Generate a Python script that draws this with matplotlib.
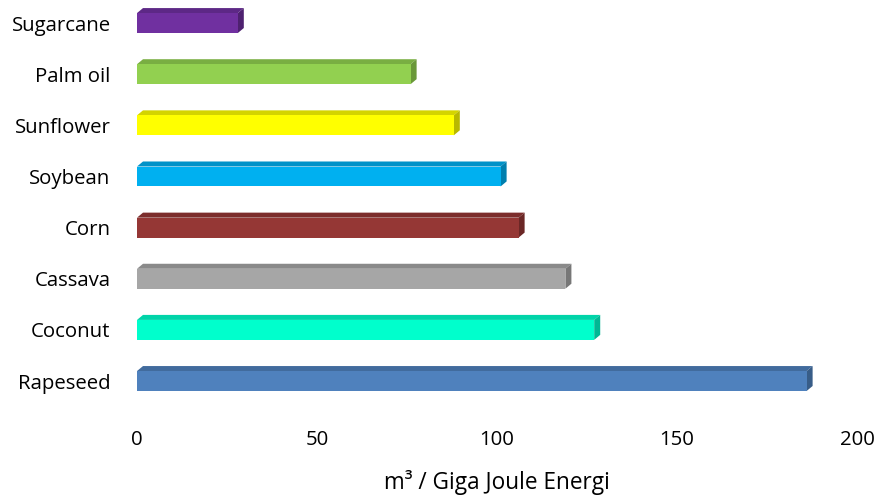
import matplotlib
matplotlib.use("Agg")
import matplotlib.pyplot as plt
from matplotlib.patches import Polygon

# water footprint per crop, bottom to top
crops = ["Rapeseed", "Coconut", "Cassava", "Corn", "Soybean", "Sunflower", "Palm oil", "Sugarcane"]
values = [186, 127, 119, 106, 101, 88, 76, 28]
front = ["#4F81BD", "#00FFCC", "#A6A6A6", "#953735", "#00B0F0", "#FFFF00", "#92D050", "#7030A0"]
top = ["#416B9D", "#00D4A9", "#8A8A8A", "#7C2D2C", "#0092C8", "#D4D400", "#79AE42", "#5D2886"]
side = ["#385D88", "#00B894", "#777777", "#6B2726", "#007FAE", "#B8B800", "#6A9839", "#4E2170"]
xticks = [0, 50, 100, 150, 200]

plt.rcParams['font.family'] = ['Open Sans', 'DejaVu Sans']

fig = plt.figure(figsize=(8.79, 4.97), dpi=100)
ax = fig.add_axes([137 / 879, 90.4 / 497, 720 / 879, 404 / 497])

h = 0.39          # bar thickness
dx, dy = 1.67, 0.098   # depth offset of the 3D box

ys = list(range(len(crops)))
ax.barh(ys, values, height=h, color=front, edgecolor="none", zorder=3)
for y, v, ct, cs in zip(ys, values, top, side):
    y0, y1 = y - h / 2, y + h / 2
    ax.add_patch(Polygon([(0, y1), (dx, y1 + dy), (v + dx, y1 + dy), (v, y1)],
                         closed=True, facecolor=ct, edgecolor="none", zorder=2))
    ax.add_patch(Polygon([(v, y0), (v, y1), (v + dx, y1 + dy), (v + dx, y0 + dy)],
                         closed=True, facecolor=cs, edgecolor="none", zorder=2))

ax.set_xlim(0, 200)
ax.set_ylim(-0.5, 7.4)
ax.set_yticks(ys)
ax.set_yticklabels(crops, fontsize=14.7)
ax.set_xticks(xticks)
ax.set_xticklabels([str(t) for t in xticks], fontsize=14.7)
ax.tick_params(axis="y", length=0, pad=19)
ax.tick_params(axis="x", length=0, pad=17)
ax.set_xlabel("m³ / Giga Joule Energi", fontsize=16.3, labelpad=14)
for s in ax.spines.values():
    s.set_visible(False)

fig.savefig("out.png", dpi=100)
